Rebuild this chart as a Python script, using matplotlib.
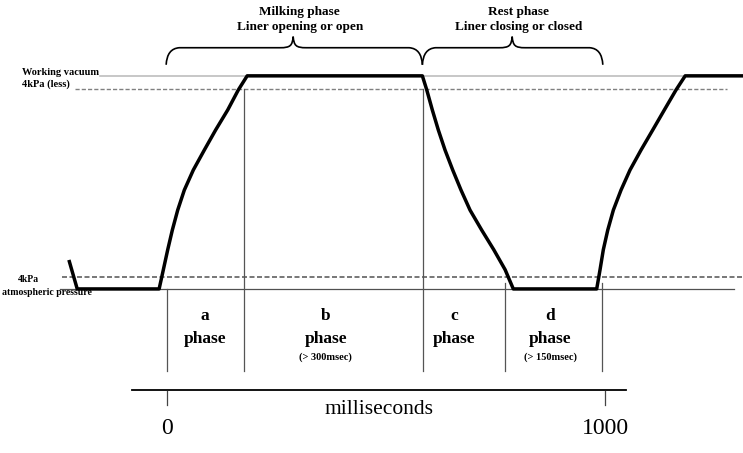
import matplotlib
matplotlib.use("Agg")
import matplotlib.pyplot as plt
from matplotlib.path import Path
from matplotlib.patches import PathPatch

# ---- data (time in ms, vacuum in kPa-like units, 0 = atmospheric) ----
curve_t = [-224, -205, -18,
           -8.4, 1.6, 12.1, 24.4, 39.5, 60, 85.2, 111, 138.6, 162.8, 183,
           583, 593, 605.7, 619.4, 634.7, 652.3, 671.2, 691.8, 718.5, 746, 772, 790.6,
           981, 988.6, 996.1, 1006.2, 1019, 1036.5, 1057, 1082.2, 1108.9, 1135.4, 1162.1, 1183,
           1315]
curve_v = [6.8, 0.0, 0.0,
           4.5, 9.2, 13.8, 18.5, 23.2, 27.9, 32.6, 37.3, 42.0, 46.7, 50.0,
           50.0, 46.7, 42.0, 37.3, 32.6, 27.9, 23.2, 18.5, 13.8, 9.2, 4.5, 0.0,
           0.0, 4.5, 9.2, 13.8, 18.5, 23.2, 27.9, 32.6, 37.3, 42.0, 46.7, 50.0,
           50.0]

working_vacuum = 50.0
upper_dashed = 46.9
lower_dashed = 2.8
atmospheric = 0.0

phase_bounds = [0, 175, 585, 772, 993]
phase_letters = ["a", "b", "c", "d"]
phase_notes = ["", "(> 300msec)", "", "(> 150msec)"]
phase_centers = [87, 362, 655, 875]

tick_values = [0, 1000]
tick_labels = ["0", "1000"]
axis_label = "milliseconds"

brace_spans = [(-2, 583, 288), (583, 995, 788)]
brace_titles = [("Milking phase", "Liner opening or open"),
                ("Rest phase", "Liner closing or closed")]

left_labels_top = ["Working vacuum", "4kPa (less)"]
left_labels_bottom = ["4kPa", "atmospheric pressure"]

# ---- figure ----
serif = ["Liberation Serif", "DejaVu Serif"]
fig = plt.figure(figsize=(7.43, 4.53), dpi=100)
ax = fig.add_axes([0, 0, 1, 1])
ax.set_xlim(-381.3, 1315)
ax.set_ylim(-38.5, 67.8)
ax.axis("off")

# reference lines
ax.plot([-153, 1315], [working_vacuum] * 2, color="#bdbdbd", lw=1.2, zorder=1)
ax.plot([-210, 1279], [upper_dashed] * 2, color="#808080", lw=1.0, ls=(0, (3, 1.5)), zorder=1)
ax.plot([-240, 1315], [lower_dashed] * 2, color="#606060", lw=1.2, ls=(0, (3, 1.5)), zorder=1)
ax.plot([-245, 1294], [atmospheric] * 2, color="#505050", lw=0.9, zorder=1)

# phase boundary verticals
tops = [atmospheric, upper_dashed, upper_dashed, 1.4, 1.4]
for b, top in zip(phase_bounds, tops):
    ax.plot([b, b], [top, -19.2], color="#555555", lw=0.9, zorder=1)

# main curve
ax.plot(curve_t, curve_v, color="black", lw=2.5, solid_joinstyle="round",
        solid_capstyle="butt", zorder=3)

# phase labels
for c, letter, note in zip(phase_centers, phase_letters, phase_notes):
    ax.text(c, -6.4, letter, ha="center", va="center", fontsize=12.5,
            fontweight="bold", family=serif)
    ax.text(c, -11.8, "phase", ha="center", va="center", fontsize=12.5,
            fontweight="bold", family=serif)
    if note:
        ax.text(c, -16.0, note, ha="center", va="center", fontsize=7.5,
                fontweight="bold", family=serif)

# bottom axis
ax.plot([-80, 1048], [-23.7, -23.7], color="black", lw=1.3)
for tv, tl in zip(tick_values, tick_labels):
    ax.plot([tv, tv], [-23.9, -27.2], color="#444444", lw=0.9)
    ax.text(tv, -32.8, tl, ha="center", va="center", fontsize=17, family=serif)
ax.text(484, -28.4, axis_label, ha="center", va="center", fontsize=15.5, family=serif)


# braces
def brace(x0, x1, xm, y_end, y_mid, y_tip):
    w = 30
    verts = [(x0, y_end), (x0 + 2, y_mid - 0.2), (x0 + w, y_mid),
             (xm - w, y_mid),
             (xm - 6, y_mid), (xm - 2, y_mid + 0.5), (xm, y_tip),
             (xm + 2, y_mid + 0.5), (xm + 6, y_mid), (xm + w, y_mid),
             (x1 - w, y_mid),
             (x1 - 2, y_mid - 0.2), (x1, y_end)]
    codes = [Path.MOVETO, Path.CURVE3, Path.CURVE3,
             Path.LINETO,
             Path.CURVE4, Path.CURVE4, Path.CURVE4,
             Path.CURVE4, Path.CURVE4, Path.CURVE4,
             Path.LINETO,
             Path.CURVE3, Path.CURVE3]
    ax.add_patch(PathPatch(Path(verts, codes), fc="none", ec="black", lw=1.2))


for (x0, x1, xm), (t1, t2) in zip(brace_spans, brace_titles):
    brace(x0, x1, xm, 52.6, 56.6, 59.2)
    ax.text(xm + 15, 65.0, t1, ha="center", va="center", fontsize=9.5,
            fontweight="bold", family=serif)
    ax.text(xm + 15, 61.5, t2, ha="center", va="center", fontsize=9.5,
            fontweight="bold", family=serif)

# left labels
ax.text(-331, 50.7, left_labels_top[0], ha="left", va="center", fontsize=7.5,
        fontweight="bold", family=serif)
ax.text(-331, 48.0, left_labels_top[1], ha="left", va="center", fontsize=7.5,
        fontweight="bold", family=serif)
ax.text(-317, 2.1, left_labels_bottom[0], ha="center", va="center", fontsize=7,
        fontweight="bold", family=serif)
ax.text(-171, -0.9, left_labels_bottom[1], ha="right", va="center", fontsize=7,
        fontweight="bold", family=serif)

fig.savefig("out.png", dpi=100)
